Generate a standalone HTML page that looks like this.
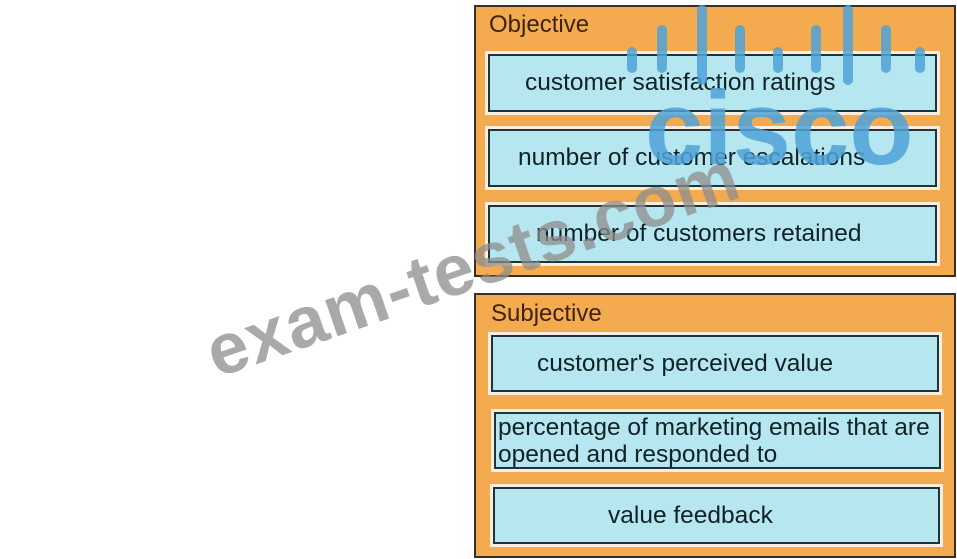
<!DOCTYPE html>
<html><head><meta charset="utf-8"><style>
body{margin:0;width:957px;height:559px;background:#fff;position:relative;overflow:hidden;font-family:"Liberation Sans",sans-serif}
.grp{position:absolute;background:#f4aa4f;border:2px solid #3a2e22;box-sizing:border-box}
.t{position:absolute;color:#3a2410;font-size:24px}
.b{position:absolute;background:#b6e6ef;border:2px solid #1e3438;box-sizing:border-box;outline:3px solid #fbeede;color:#102226;font-size:24.5px;display:flex;align-items:center;white-space:nowrap}
.wm{position:absolute;left:222px;top:312px;font-weight:bold;font-size:72px;color:rgba(140,140,140,0.75);transform:rotate(-19deg);transform-origin:0 100%;white-space:nowrap;letter-spacing:1px}
</style></head><body>
<div class="grp" style="left:474px;top:5px;width:482px;height:272px"></div>
<div class="t" style="left:489px;top:11px">Objective</div>
<div class="b" style="left:488px;top:54px;width:449px;height:58px;padding-left:35px">customer satisfaction ratings</div>
<div class="b" style="left:488px;top:129px;width:449px;height:58px;padding-left:28px">number of customer escalations</div>
<div class="b" style="left:488px;top:205px;width:449px;height:58px;padding-left:46px">number of customers retained</div>

<div class="grp" style="left:474px;top:293px;width:482px;height:265px"></div>
<div class="t" style="left:491px;top:300px">Subjective</div>
<div class="b" style="left:491px;top:335px;width:448px;height:57px;padding-left:44px">customer's perceived value</div>
<div class="b" style="left:494px;top:412px;width:447px;height:57px;padding-left:2px;line-height:27px">percentage of marketing emails that are<br>opened and responded to</div>
<div class="b" style="left:493px;top:487px;width:447px;height:57px;padding-left:113px">value feedback</div>

<svg style="position:absolute;left:0;top:0" width="957" height="559">
<g stroke="#4fa3d8" stroke-width="10" stroke-linecap="round" opacity="0.85">
<line x1="632" y1="52" x2="632" y2="68"/><line x1="662" y1="30" x2="662" y2="68"/>
<line x1="702" y1="10" x2="702" y2="80"/><line x1="740" y1="30" x2="740" y2="68"/>
<line x1="778" y1="52" x2="778" y2="68"/><line x1="816" y1="30" x2="816" y2="68"/>
<line x1="848" y1="10" x2="848" y2="80"/><line x1="886" y1="30" x2="886" y2="68"/>
<line x1="920" y1="52" x2="920" y2="68"/>
</g>
<text x="645" y="164" font-family="Liberation Sans" font-weight="bold" font-size="105" fill="#4fa3d8" opacity="0.85">cisco</text>
</svg>
<div class="wm">exam-tests.com</div>
</body></html>
